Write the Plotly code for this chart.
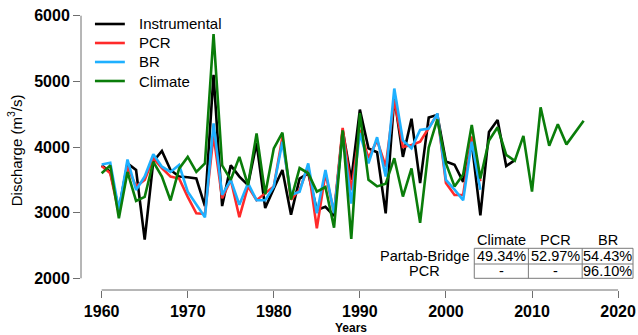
import plotly.graph_objects as go

# ---- data -------------------------------------------------------------
years_inst = list(range(1960, 2009))
instrumental = [3720, 3620, 3050, 3750, 3650, 2590, 3780, 3940, 3650, 3550,
                3540, 3520, 3100, 5100, 3100, 3720, 3550, 3420, 4060, 3070,
                3370, 3650, 2970, 3520, 3600, 3040, 3090, 2950, 4260, 3500,
                4570, 3980, 3920, 2990, 4760, 3850, 4430, 3450, 4450, 4490,
                3780, 3730, 3470, 4060, 2960, 4230, 4410, 3710, 3800]

years_rec = list(range(1960, 2005))
pcr = [3710, 3600, 2990, 3700, 3400, 3500, 3830, 3680, 3550, 3520,
       3240, 2990, 2980, 4180, 3220, 3500, 2930, 3400, 3190, 3290,
       3400, 4150, 3200, 3350, 3700, 2760, 3600, 3000, 4290, 3340,
       4260, 3830, 4100, 3700, 4720, 4000, 4030, 4080, 4300, 4500,
       3450, 3270, 3270, 4160, 3480]
br = [3735, 3760, 3040, 3810, 3345, 3550, 3890, 3700, 3620, 3725,
      3320, 3120, 2930, 4360, 3270, 3500, 3120, 3450, 3190, 3190,
      3400, 4080, 3270, 3320, 3750, 2990, 3650, 2990, 4190, 3140,
      4210, 3750, 4150, 3550, 4890, 4100, 3980, 4260, 4280, 4510,
      3500, 3350, 3190, 4080, 3350]

years_clim = list(range(1960, 2017))
climate = [3600, 3720, 2915, 3620, 3180, 3240, 3775, 3550, 3185, 3670,
           3850, 3620, 3750, 5720, 3720, 3500, 3850, 3420, 4205, 3280,
           3980, 4220, 3200, 3680, 3600, 3320, 3390, 2770, 4255, 2600,
           4515, 3500, 3400, 3440, 3830, 3245, 3675, 2845, 3990, 4420,
           3750, 3400, 3580, 4335, 3520, 4100, 4300, 3880, 3790, 4170,
           3320, 4605, 4020, 4345, 4040, 4220, 4400]

# correlation table
tbl_cols = ["Climate", "PCR", "BR"]
tbl_rows = ["Partab-Bridge", "PCR"]
tbl_vals = [["49.34%", "52.97%", "54.43%"],
            ["-", "-", "96.10%"]]

x_ticks = [1960, 1970, 1980, 1990, 2000, 2010, 2020]
y_ticks = [2000, 3000, 4000, 5000, 6000]

# ---- styling ----------------------------------------------------------
FONT = "Liberation Sans, Arial, sans-serif"
W, H = 638, 335
L, R, T, B = 81, 2, 5, 45          # plot-area margins (px)
PW, PH = W - L - R, H - T - B
AXIS_GREY = "#6e6e6e"


def px(x):
    return (x - L) / PW


def py(y):
    return (H - B - y) / PH


def label(text, x, y, size, xanchor="center", angle=0):
    fig.add_annotation(text=text, xref="paper", yref="paper", x=px(x),
                       y=py(y), showarrow=False, xanchor=xanchor,
                       yanchor="middle", textangle=angle,
                       font=dict(size=size, family=FONT, color="black"))


series = [
    ("Instrumental", years_inst, instrumental, "#000000"),
    ("PCR", years_rec, pcr, "#ff2a2a"),
    ("BR", years_rec, br, "#1eb0ff"),
    ("Climate", years_clim, climate, "#0a7d0a"),
]
LINE_W = 2.6

fig = go.Figure()
for name, xs, ys, col in series:
    fig.add_trace(go.Scatter(x=xs, y=ys, mode="lines", name=name,
                             showlegend=False,
                             line=dict(color=col, width=LINE_W)))

fig.update_layout(
    width=W, height=H,
    margin=dict(l=L, r=R, t=T, b=B, pad=0),
    paper_bgcolor="white", plot_bgcolor="white",
    font=dict(family=FONT, color="black"),
)

fig.update_xaxes(
    range=[1957.6, 2021.85], showgrid=False, zeroline=False, showline=False,
    tickmode="array", tickvals=x_ticks, ticks="outside", ticklen=7,
    tickcolor=AXIS_GREY, tickwidth=1,
    tickfont=dict(size=16, family=FONT, weight="bold"),
)
fig.update_yaxes(
    range=[1822, 6163], showgrid=False, zeroline=False, showline=False,
    tickmode="array", tickvals=y_ticks, ticks="outside", ticklen=7,
    tickcolor=AXIS_GREY, tickwidth=1,
    tickfont=dict(size=16, family=FONT, weight="bold"),
)

# R-style detached axis lines spanning first to last tick
fig.add_shape(type="line", xref="paper", yref="y", x0=0, x1=0,
              y0=y_ticks[0], y1=y_ticks[-1],
              line=dict(color=AXIS_GREY, width=1))
fig.add_shape(type="line", xref="x", yref="paper", x0=x_ticks[0],
              x1=x_ticks[-1], y0=0, y1=0,
              line=dict(color=AXIS_GREY, width=1))

# legend: short line keys with labels
for k, (name, _, _, col) in enumerate(series):
    ly = 24 + k * 19
    fig.add_shape(type="line", xref="paper", yref="paper", x0=px(95),
                  x1=px(125), y0=py(ly), y1=py(ly),
                  line=dict(color=col, width=LINE_W))
    label(name, 137, ly, 15, xanchor="left")

# axis titles
label("Discharge (m<sup>3</sup>/s)", 14, 150, 15, angle=-90)
label("<b>Years</b>", 352, 328, 12)

# correlation table
col_edges = [475.7, 530, 584, 635]
row_edges = [248.3, 264, 278.3]
for j, c in enumerate(tbl_cols):
    label(c, (col_edges[j] + col_edges[j + 1]) / 2, 240, 14.5)
for i, r in enumerate(tbl_rows):
    cy = (row_edges[i] + row_edges[i + 1]) / 2
    label(r, 426, cy, 14.5)
    for j, v in enumerate(tbl_vals[i]):
        label(v, (col_edges[j] + col_edges[j + 1]) / 2, cy, 14.5)

TBL_GREY = "#7a7a7a"
fig.add_shape(type="rect", xref="paper", yref="paper",
              x0=px(col_edges[0]), x1=px(col_edges[-1]),
              y0=py(row_edges[0]), y1=py(row_edges[-1]),
              line=dict(color=TBL_GREY, width=1))
for xe in col_edges[1:-1]:
    fig.add_shape(type="line", xref="paper", yref="paper", x0=px(xe),
                  x1=px(xe), y0=py(row_edges[0]), y1=py(row_edges[-1]),
                  line=dict(color=TBL_GREY, width=1))
fig.add_shape(type="line", xref="paper", yref="paper", x0=px(col_edges[0]),
              x1=px(col_edges[-1]), y0=py(row_edges[1]), y1=py(row_edges[1]),
              line=dict(color=TBL_GREY, width=1))

fig.write_html("out.html")
